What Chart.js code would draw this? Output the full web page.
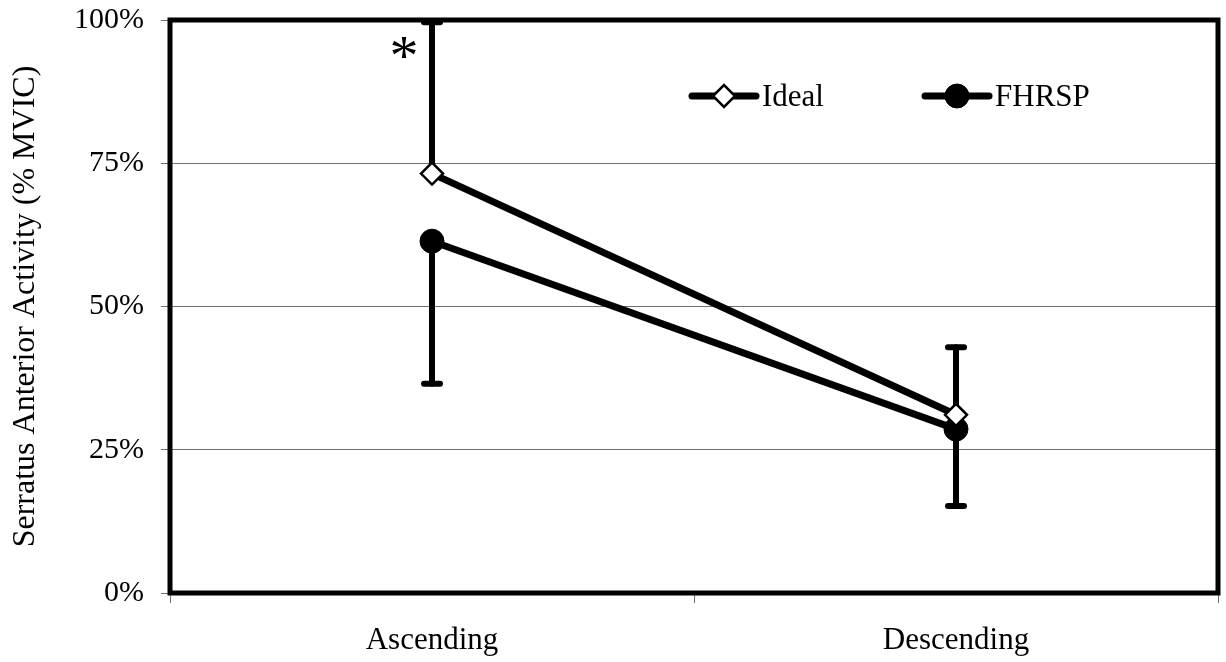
<!DOCTYPE html>
<html>
<head>
<meta charset="utf-8">
<script src="https://cdn.jsdelivr.net/npm/chart.js@4.4.0/dist/chart.umd.min.js"></script>
<style>
  html, body { margin: 0; padding: 0; background: #ffffff; }
  #wrap { width: 1226px; height: 662px; }
</style>
</head>
<body>
<div id="wrap"><canvas id="c" width="1226" height="662"></canvas></div>
<script>
// ---- data ----
const categories = ['Ascending', 'Descending'];
const idealValues = [73.2, 31.1];
const fhrspValues = [61.4, 28.6];
const idealErrPlus = [26.4, 11.8];
const fhrspErrMinus = [24.9, 13.4];
const yTicks = [0, 25, 50, 75, 100];
const seriesNames = ['Ideal', 'FHRSP'];
const yAxisTitle = 'Serratus Anterior Activity (% MVIC)';
const sigCategory = 'Ascending';
const sigMark = '*';

const SERIF = '"Liberation Serif", "Times New Roman", serif';

const errorBarPlugin = {
  id: 'errorBars',
  beforeDatasetsDraw(chart) {
    const ctx = chart.ctx;
    const x = chart.scales.x, y = chart.scales.y;
    const area = chart.chartArea;
    ctx.save();
    ctx.beginPath();
    ctx.rect(area.left, area.top - 2, area.right - area.left, area.bottom - area.top + 4);
    ctx.clip();
    ctx.strokeStyle = '#000';
    ctx.lineCap = 'round';
    const draw = (i, v, e) => {
      const px = x.getPixelForValue(i);
      const p0 = y.getPixelForValue(v);
      const p1 = y.getPixelForValue(v + e);
      ctx.lineWidth = 6;
      ctx.beginPath(); ctx.moveTo(px, p0); ctx.lineTo(px, p1); ctx.stroke();
      ctx.lineWidth = 6;
      ctx.beginPath(); ctx.moveTo(px - 8, p1); ctx.lineTo(px + 8, p1); ctx.stroke();
    };
    categories.forEach((c, i) => {
      draw(i, idealValues[i], idealErrPlus[i]);
      draw(i, fhrspValues[i], -fhrspErrMinus[i]);
    });
    ctx.restore();
  }
};

const frameAndLegendPlugin = {
  id: 'frameLegend',
  afterDraw(chart) {
    const ctx = chart.ctx;
    const a = chart.chartArea;
    ctx.save();
    // plot frame
    ctx.strokeStyle = '#000';
    ctx.lineWidth = 5;
    ctx.strokeRect(a.left, a.top, a.right - a.left, a.bottom - a.top);

    // significance mark
    const xi = categories.indexOf(sigCategory);
    const sx = chart.scales.x.getPixelForValue(xi) - 28;
    const sy = chart.scales.y.getPixelForValue(idealValues[xi] + idealErrPlus[xi]) + 31;
    ctx.fillStyle = '#000';
    ctx.font = '58px ' + SERIF;
    ctx.textAlign = 'center';
    ctx.textBaseline = 'middle';
    ctx.fillText(sigMark, sx, sy + 6);

    // legend
    const starts = [692, 925];
    const ly = 96;
    chart.data.datasets.forEach((ds, i) => {
      const x0 = starts[i];
      ctx.strokeStyle = '#000';
      ctx.lineWidth = 7;
      ctx.lineCap = 'round';
      ctx.beginPath(); ctx.moveTo(x0, ly); ctx.lineTo(x0 + 64, ly); ctx.stroke();
      const cx = x0 + 32;
      ctx.lineWidth = ds.pointBorderWidth;
      ctx.beginPath();
      if (ds.pointStyle === 'rectRot') {
        const r = ds.pointRadius;
        ctx.moveTo(cx - r, ly); ctx.lineTo(cx, ly - r); ctx.lineTo(cx + r, ly); ctx.lineTo(cx, ly + r); ctx.closePath();
      } else {
        ctx.arc(cx, ly, ds.pointRadius, 0, Math.PI * 2);
      }
      ctx.fillStyle = ds.pointBackgroundColor;
      ctx.fill();
      ctx.stroke();
      ctx.fillStyle = '#000';
      ctx.font = '31px ' + SERIF;
      ctx.textAlign = 'left';
      ctx.textBaseline = 'middle';
      ctx.fillText(ds.label, x0 + 70, ly + 2);
    });
    ctx.restore();
  }
};

new Chart(document.getElementById('c'), {
  type: 'line',
  data: {
    labels: categories,
    datasets: [
      {
        label: seriesNames[0],
        data: idealValues,
        borderColor: '#000',
        borderWidth: 7,
        pointStyle: 'rectRot',
        pointRadius: 11,
        pointBorderWidth: 2.5,
        pointBackgroundColor: '#fff',
        pointBorderColor: '#000',
        tension: 0
      },
      {
        label: seriesNames[1],
        data: fhrspValues,
        borderColor: '#000',
        borderWidth: 7,
        pointStyle: 'circle',
        pointRadius: 12,
        pointBorderWidth: 1,
        pointBackgroundColor: '#000',
        pointBorderColor: '#000',
        tension: 0
      }
    ]
  },
  options: {
    responsive: false,
    animation: false,
    devicePixelRatio: 1,
    layout: { autoPadding: false, padding: { top: 20, right: 8, left: 0, bottom: 0 } },
    plugins: { legend: { display: false }, tooltip: { enabled: false } },
    scales: {
      x: {
        type: 'category',
        offset: true,
        grid: { offset: true, drawOnChartArea: false, drawTicks: true, tickLength: 10, color: '#707070', tickColor: '#707070' },
        border: { display: false },
        ticks: { color: '#000', font: { family: SERIF, size: 31 }, padding: 19 },
        afterFit(s) { s.height = 69; s.paddingLeft = 0; s.paddingRight = 0; }
      },
      y: {
        min: 0, max: 100,
        afterBuildTicks(s) { s.ticks = yTicks.map(v => ({ value: v })); },
        grid: { color: '#707070', lineWidth: 1, tickLength: 9, tickColor: '#707070' },
        border: { display: false },
        ticks: { color: '#000', font: { family: SERIF, size: 30 }, padding: 17, callback: v => v + '%' },
        title: { display: true, text: yAxisTitle, color: '#000', font: { family: SERIF, size: 32 }, padding: { top: 6, bottom: 0 } },
        afterFit(s) { s.width = 170; s.paddingTop = 0; s.paddingBottom = 0; }
      }
    }
  },
  plugins: [errorBarPlugin, frameAndLegendPlugin]
});
</script>
</body>
</html>
